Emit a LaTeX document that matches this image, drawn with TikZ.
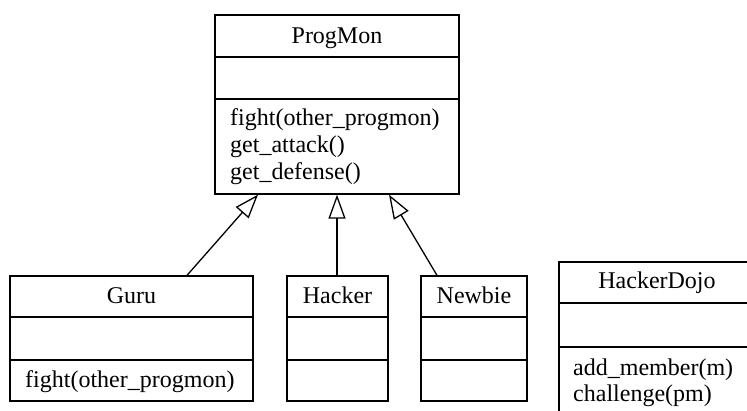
\documentclass[tikz,border=0pt]{standalone}
\usepackage{fontspec}
\setmainfont{Liberation Serif}
\usetikzlibrary{arrows.meta}
\begin{document}
\begin{tikzpicture}[x=1pt,y=-1pt,
  box/.style={draw=black, line width=1.3pt, inner sep=0pt, fill=none},
  divider/.style={draw=black, line width=1.3pt},
  title/.style={anchor=base, inner sep=0pt, font=\fontsize{24}{27}\selectfont},
  meth/.style={anchor=base west, inner sep=0pt, font=\fontsize{24}{27}\selectfont},
  inh/.style={draw=black, line width=1.3pt, -{Triangle[open, length=24pt, width=17pt, line width=1.3pt]}}]
\useasboundingbox (0,0) rectangle (747,410);
\fill[white] (0,0) rectangle (747,410);
\clip (0,0) rectangle (747,410);

% ProgMon
\node[box, minimum width=244pt, minimum height=179pt] (progmon) at (337,104.5) {};
\draw[divider] (215,57) -- (459,57);
\draw[divider] (215,99) -- (459,99);
\node[title] (pmt) at (337,43) {ProgMon};
\node[meth] (pm1) at (230,125) {fight(other\_progmon)};
\node[meth] (pm2) at (230,152) {get\_attack()};
\node[meth] (pm3) at (230,179) {get\_defense()};

% Guru
\node[box, minimum width=243pt, minimum height=125pt] (guru) at (131.5,338.5) {};
\draw[divider] (10,317) -- (253,317);
\draw[divider] (10,360) -- (253,360);
\node[title] (gt) at (131.5,303) {Guru};
\node[meth] (g1) at (25,387) {fight(other\_progmon)};

% Hacker
\node[box, minimum width=101pt, minimum height=125pt] (hacker) at (337.5,338.5) {};
\draw[divider] (287,317) -- (388,317);
\draw[divider] (287,360) -- (388,360);
\node[title] (ht) at (337.5,303) {Hacker};

% Newbie
\node[box, minimum width=106pt, minimum height=125pt] (newbie) at (474,338.5) {};
\draw[divider] (421,317) -- (527,317);
\draw[divider] (421,360) -- (527,360);
\node[title] (nt) at (474,303) {Newbie};

% HackerDojo (runs past the right and bottom edges)
\node[box, minimum width=196pt, minimum height=156pt] (dojo) at (657,340) {};
\draw[divider] (559,303) -- (755,303);
\draw[divider] (559,347) -- (755,347);
\node[title] (dt) at (657,288) {HackerDojo};
\node[meth] (d1) at (573,375) {add\_member(m)};
\node[meth] (d2) at (573,401) {challenge(pm)};

% inheritance
\draw[inh] ([xshift=55.5pt]guru.north) -- ([xshift=-79pt]progmon.south);
\draw[inh] ([xshift=-0.5pt]hacker.north) -- (progmon.south);
\draw[inh] ([xshift=-37pt]newbie.north) -- ([xshift=52pt]progmon.south);
\end{tikzpicture}
\end{document}
